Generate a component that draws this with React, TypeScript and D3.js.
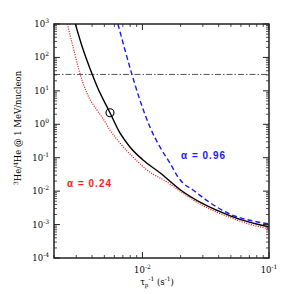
import React from "react";
import * as d3 from "d3";

const W = 294, H = 294;
const M = { left: 54, right: 269, top: 24, bottom: 258 };

const xDomain = [2e-3, 0.1];
const yDomain = [1e-4, 1e3];

const yTickExps = [-4, -3, -2, -1, 0, 1, 2, 3];
const xTickExps = [-2, -1];

// alpha = 0.24 (red dotted)
const redX = [2.55e-3, 2.87e-3, 3.15e-3, 3.64e-3, 4.37e-3, 4.96e-3, 5.54e-3, 6.64e-3, 8.41e-3, 0.01086, 0.0156, 0.02, 0.03, 0.05, 0.07, 0.1];
const redY = [1e3, 167, 42, 8.6, 2.67, 1.34, 0.67, 0.275, 0.105, 0.043, 0.0188, 0.0098, 0.0037, 0.0016, 0.00103, 0.00074];

// black solid
const blackX = [2.95e-3, 3.34e-3, 3.89e-3, 4.39e-3, 5.54e-3, 6.64e-3, 7.96e-3, 0.0101, 0.01374, 0.02, 0.03, 0.05, 0.07, 0.1];
const blackY = [1e3, 209, 42, 13.3, 2.22, 0.55, 0.21, 0.0855, 0.0355, 0.0108, 0.0042, 0.0018, 0.00118, 0.00085];

// alpha = 0.96 (blue dashed)
const blueX = [6.4e-3, 8.26e-3, 9.55e-3, 0.01146, 0.01374, 0.0165, 0.0191, 0.0209, 0.0251, 0.0324, 0.05, 0.07, 0.1];
const blueY = [1e3, 31, 5.3, 0.83, 0.21, 0.0696, 0.0265, 0.0175, 0.0108, 0.0052, 0.0020, 0.00135, 0.00105];

const markerX = [5.54e-3];
const markerY = [2.22];

const thresholdY = [31];

const labels = ["α = 0.24", "α = 0.96"];

const serif = "DejaVu Serif";

export default function App() {
  const x = d3.scaleLog().domain(xDomain).range([M.left, M.right]);
  const y = d3.scaleLog().domain(yDomain).range([M.bottom, M.top]);

  const line = d3
    .line<[number, number]>()
    .x((d) => x(d[0]))
    .y((d) => y(d[1]))
    .curve(d3.curveMonotoneX);

  const zip = (a: number[], b: number[]) => a.map((v, i) => [v, b[i]] as [number, number]);

  const yMinor: number[] = [];
  for (let e = -4; e < 3; e++) for (let k = 2; k <= 9; k++) yMinor.push(k * Math.pow(10, e));
  const xMinor: number[] = [];
  for (let e = -3; e < -1; e++)
    for (let k = 2; k <= 9; k++) {
      const v = k * Math.pow(10, e);
      if (v >= xDomain[0] && v <= xDomain[1]) xMinor.push(v);
    }

  const axisColor = "#222";
  const maj = 6, mnr = 3;

  return (
    <svg width={W} height={H} style={{ position: "absolute", left: 0, top: 0, background: "#fff" }}>
      <defs>
        <clipPath id="plot">
          <rect x={M.left} y={M.top} width={M.right - M.left} height={M.bottom - M.top} />
        </clipPath>
      </defs>
      <g clipPath="url(#plot)">
        <line
          x1={M.left}
          x2={M.right}
          y1={y(thresholdY[0])}
          y2={y(thresholdY[0])}
          stroke="#555"
          strokeWidth={1}
          strokeDasharray="6,2,1.5,2"
        />
        <path d={line(zip(redX, redY)) || ""} fill="none" stroke="#ff0000" strokeWidth={1.2} strokeDasharray="1,1.4" />
        <path d={line(zip(blackX, blackY)) || ""} fill="none" stroke="#000" strokeWidth={1.4} />
        <path d={line(zip(blueX, blueY)) || ""} fill="none" stroke="#1a1aff" strokeWidth={1.4} strokeDasharray="5,3" />
        <circle cx={x(markerX[0])} cy={y(markerY[0])} r={4} fill="none" stroke="#000" strokeWidth={1.1} />
      </g>

      <rect
        x={M.left}
        y={M.top}
        width={M.right - M.left}
        height={M.bottom - M.top}
        fill="none"
        stroke={axisColor}
        strokeWidth={1.5}
      />

      {yTickExps.map((e) => {
        const py = y(Math.pow(10, e));
        return (
          <g key={"yt" + e}>
            <line x1={M.left} x2={M.left + maj} y1={py} y2={py} stroke={axisColor} strokeWidth={1} />
            <line x1={M.right} x2={M.right - maj} y1={py} y2={py} stroke={axisColor} strokeWidth={1} />
            <text x={49} y={py + 3} textAnchor="end" fontFamily={serif} fontSize={8.5} fill="#000">
              10
              <tspan dy={-4} fontSize={6}>{e}</tspan>
            </text>
          </g>
        );
      })}
      {yMinor.map((v, i) => {
        const py = y(v);
        return (
          <g key={"ym" + i}>
            <line x1={M.left} x2={M.left + mnr} y1={py} y2={py} stroke={axisColor} strokeWidth={0.8} />
            <line x1={M.right} x2={M.right - mnr} y1={py} y2={py} stroke={axisColor} strokeWidth={0.8} />
          </g>
        );
      })}

      {xTickExps.map((e) => {
        const px = x(Math.pow(10, e));
        return (
          <g key={"xt" + e}>
            <line x1={px} x2={px} y1={M.bottom} y2={M.bottom - maj} stroke={axisColor} strokeWidth={1} />
            <line x1={px} x2={px} y1={M.top} y2={M.top + maj} stroke={axisColor} strokeWidth={1} />
            <text x={px} y={273} textAnchor="middle" fontFamily={serif} fontSize={8.5} fill="#000">
              10
              <tspan dy={-4} fontSize={6}>{e}</tspan>
            </text>
          </g>
        );
      })}
      {xMinor.map((v, i) => {
        const px = x(v);
        return (
          <g key={"xm" + i}>
            <line x1={px} x2={px} y1={M.bottom} y2={M.bottom - mnr} stroke={axisColor} strokeWidth={0.8} />
            <line x1={px} x2={px} y1={M.top} y2={M.top + mnr} stroke={axisColor} strokeWidth={0.8} />
          </g>
        );
      })}

      <text x={157} y={285} textAnchor="middle" fontFamily={serif} fontSize={8.5} fill="#000">
        τ
        <tspan dy={2} fontSize={5.5}>p</tspan>
        <tspan dy={-6} fontSize={6}>-1</tspan>
        <tspan dy={4}> (s</tspan>
        <tspan dy={-4} fontSize={6}>-1</tspan>
        <tspan dy={4}>)</tspan>
      </text>

      <text
        transform={`translate(21,128) rotate(-90)`}
        textAnchor="middle"
        fontFamily={serif}
        fontSize={8.5}
        fill="#000"
      >
        <tspan dy={-3} fontSize={6}>3</tspan>
        <tspan dy={3}>He/</tspan>
        <tspan dy={-3} fontSize={6}>4</tspan>
        <tspan dy={3}>He @ 1 MeV/nucleon</tspan>
      </text>

      <text x={67} y={187} fontFamily="Liberation Sans" fontWeight="bold" fontSize={10} letterSpacing={1} fill="#ff1a1a">
        {labels[0]}
      </text>
      <text x={181} y={159} fontFamily="Liberation Sans" fontWeight="bold" fontSize={10} letterSpacing={1} fill="#1a1aff">
        {labels[1]}
      </text>
    </svg>
  );
}
